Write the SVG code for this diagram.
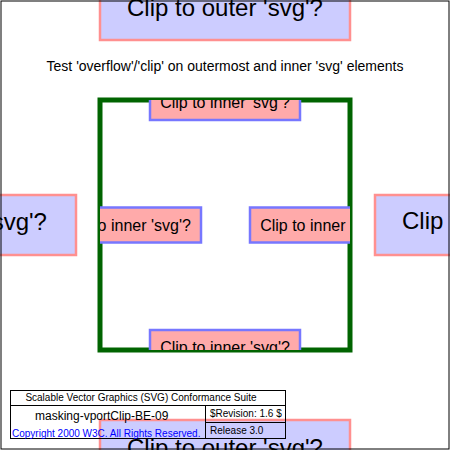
<svg xmlns="http://www.w3.org/2000/svg" width="450" height="450" viewBox="0 0 450 450">
  <style>
    .outer rect { fill: #CCCCFF; stroke: #FF9090; stroke-width: 2.5; }
    .outer text { font-family: "Liberation Sans", Arial, sans-serif; font-size: 24px; fill: #000; text-anchor: middle; }
    .inner rect { fill: #FFAAAA; stroke: #7777FF; stroke-width: 2.5; }
    .inner text { font-family: "Liberation Sans", Arial, sans-serif; font-size: 16px; fill: #000; text-anchor: middle; }
    .legend { font-family: "Liberation Sans", Arial, sans-serif; }
    .line { fill: none; stroke: #000; stroke-width: 1; }
  </style>
  <rect x="0" y="0" width="450" height="450" fill="#FFFFFF"/>
  <g id="outer-top" class="outer">
    <rect x="100" y="-20" width="250" height="60"/>
    <text x="225" y="16">Clip to outer 'svg'?</text>
  </g>
  <g id="outer-left" class="outer">
    <rect x="-174" y="195" width="250" height="60"/>
    <text x="-51" y="230">Clip to outer 'svg'?</text>
  </g>
  <g id="outer-right" class="outer">
    <rect x="375" y="195" width="250" height="60"/>
    <text x="500" y="229">Clip to outer 'svg'?</text>
  </g>
  <g id="outer-bottom" class="outer">
    <rect x="100" y="420" width="250" height="60"/>
    <text x="225" y="456">Clip to outer 'svg'?</text>
  </g>
  <g id="title">
    <text x="225" y="71" font-family="Liberation Sans, Arial, sans-serif" font-size="14" text-anchor="middle" fill="#000">Test 'overflow'/'clip' on outermost and inner 'svg' elements</text>
  </g>
  <g id="inner-frame">
    <rect x="100" y="100" width="250" height="250" fill="none" stroke="#006400" stroke-width="5"/>
  </g>
  <svg x="100" y="100" width="250" height="250" viewBox="100 100 250 250" overflow="hidden">
    <g id="inner-top" class="inner">
      <rect x="150" y="85" width="150" height="35"/>
      <text x="225" y="108">Clip to inner 'svg'?</text>
    </g>
    <g id="inner-left" class="inner">
      <rect x="51" y="207.5" width="150" height="35"/>
      <text x="126" y="230.5">Clip to inner 'svg'?</text>
    </g>
    <g id="inner-right" class="inner">
      <rect x="250" y="207.5" width="150" height="35"/>
      <text x="325" y="230.5">Clip to inner 'svg'?</text>
    </g>
    <g id="inner-bottom" class="inner">
      <rect x="150" y="330" width="150" height="35"/>
      <text x="225" y="353">Clip to inner 'svg'?</text>
    </g>
  </svg>
  <g id="test-legend">
    <rect class="line" x="10.5" y="390.5" width="275" height="48"/>
    <line class="line" x1="10.5" y1="405.5" x2="285.5" y2="405.5"/>
    <line class="line" x1="205.5" y1="405.5" x2="205.5" y2="438.5"/>
    <line class="line" x1="205.5" y1="422.5" x2="285.5" y2="422.5"/>
    <text class="legend" x="141" y="401" font-size="10" fill="#000" text-anchor="middle">Scalable Vector Graphics (SVG) Conformance Suite</text>
    <text class="legend" x="35" y="419.5" font-size="12" fill="#000">masking-vportClip-BE-09</text>
    <text class="legend" x="210" y="416.5" font-size="10" fill="#000">$Revision: 1.6 $</text>
    <text class="legend" x="210" y="434" font-size="10" fill="#000">Release 3.0</text>
    <text class="legend" x="12" y="436.5" font-size="10" fill="#0000FF">Copyright 2000 W3C. All Rights Reserved.</text>
  </g>
  <g id="test-frame">
    <rect x="1" y="1" width="448" height="448" fill="none" stroke="#000" stroke-width="1"/>
  </g>
</svg>
